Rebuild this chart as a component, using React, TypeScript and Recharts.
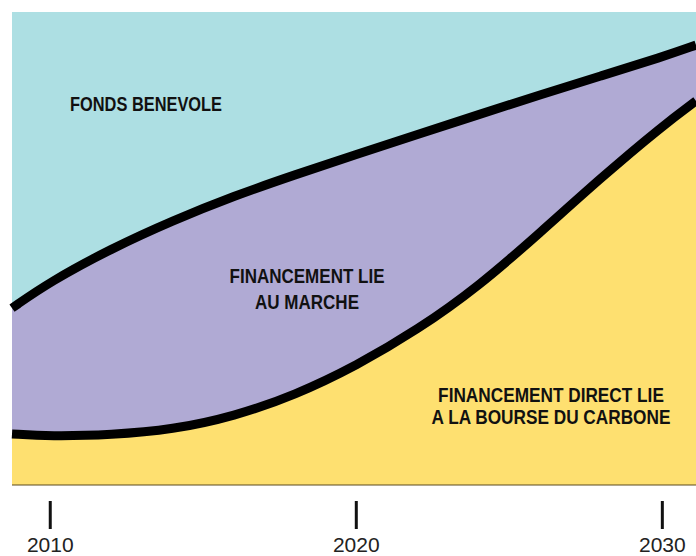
import React from 'react';
import { ComposedChart, Area, Line, XAxis, YAxis } from 'recharts';

// Years sampled along the x axis (the axis spans a little past 2010 and 2030)
const years = [2008.75, 2010, 2012, 2014, 2016, 2018, 2020, 2022, 2024, 2026, 2028, 2030, 2031.1];
// Lower boundary (%): financement direct lié à la bourse du carbone
const directCarbon = [10.8, 10.3, 10.6, 11.7, 14.5, 19.0, 25.2, 32.8, 42.0, 53.3, 65.0, 75.9, 81.2];
// Upper boundary (%): direct + financement lié au marché
const upperBoundary = [37.4, 43.0, 50.0, 55.9, 61.1, 65.6, 69.9, 74.1, 78.3, 82.5, 86.5, 90.5, 93.0];
const tickYears = [2010, 2020, 2030];
const xDomain = [2008.75, 2031.1];

const labelFonds = ['FONDS BENEVOLE'];
const labelMarche = ['FINANCEMENT LIE', 'AU MARCHE'];
const labelCarbone = ['FINANCEMENT DIRECT LIE', 'A LA BOURSE DU CARBONE'];

const data = years.map((year, i) => ({
  year,
  direct: directCarbon[i],
  market: upperBoundary[i] - directCarbon[i],
  voluntary: 100 - upperBoundary[i],
  lower: directCarbon[i],
  upper: upperBoundary[i],
}));

const YearTick = (props: any) => {
  const { x, y, payload } = props;
  return (
    <g>
      <line x1={x} x2={x} y1={y + 16} y2={y + 44} stroke="#111" strokeWidth={3} />
      <text
        x={x}
        y={y + 67}
        textAnchor="middle"
        fontSize={21}
        fill="#222"
        fontFamily="'Liberation Sans', Arial, sans-serif"
      >
        {payload.value}
      </text>
    </g>
  );
};

const labelFont = "'Liberation Sans', Arial, sans-serif";

const Label = ({ lines, cx, top, lh, sx }: { lines: string[]; cx: number; top: number; lh: number; sx: number }) => (
  <div
    style={{
      position: 'absolute',
      left: cx,
      top,
      transform: `translateX(-50%) scaleX(${sx})`,
      fontFamily: labelFont,
      fontWeight: 700,
      fontSize: 21,
      lineHeight: `${lh}px`,
      color: '#111',
      textAlign: 'center',
      whiteSpace: 'nowrap',
      pointerEvents: 'none',
    }}
  >
    {lines.map((l) => (
      <div key={l}>{l}</div>
    ))}
  </div>
);

export default function App() {
  return (
    <div style={{ position: 'absolute', left: 0, top: 0, width: 696, height: 556, background: '#fff' }}>
      <ComposedChart width={696} height={556} data={data} margin={{ top: 12, right: 0, left: 12, bottom: 0 }}>
        <XAxis
          dataKey="year"
          type="number"
          domain={xDomain}
          ticks={tickYears}
          height={71}
          tickLine={false}
          tickSize={0}
          tickMargin={0}
          axisLine={{ stroke: '#5a4a1e', strokeWidth: 1 }}
          tick={<YearTick />}
          interval={0}
        />
        <YAxis
          type="number"
          domain={[0, 100]}
          width={0}
          tick={false}
          tickLine={false}
          axisLine={{ stroke: '#3f5358', strokeWidth: 1 }}
        />
        <Area
          type="basis"
          dataKey="direct"
          stackId="s"
          fill="#fee070"
          fillOpacity={1}
          stroke="none"
          isAnimationActive={false}
        />
        <Area
          type="basis"
          dataKey="market"
          stackId="s"
          fill="#b0aad4"
          fillOpacity={1}
          stroke="none"
          isAnimationActive={false}
        />
        <Area
          type="basis"
          dataKey="voluntary"
          stackId="s"
          fill="#addfe3"
          fillOpacity={1}
          stroke="none"
          isAnimationActive={false}
        />
        <Line type="basis" dataKey="lower" stroke="#000" strokeWidth={9} dot={false} activeDot={false} isAnimationActive={false} />
        <Line type="basis" dataKey="upper" stroke="#000" strokeWidth={9} dot={false} activeDot={false} isAnimationActive={false} />
      </ComposedChart>
      <Label lines={labelFonds} cx={146} top={93} lh={22} sx={0.78} />
      <Label lines={labelMarche} cx={307} top={263} lh={26} sx={0.81} />
      <Label lines={labelCarbone} cx={551} top={384} lh={22} sx={0.82} />
    </div>
  );
}
